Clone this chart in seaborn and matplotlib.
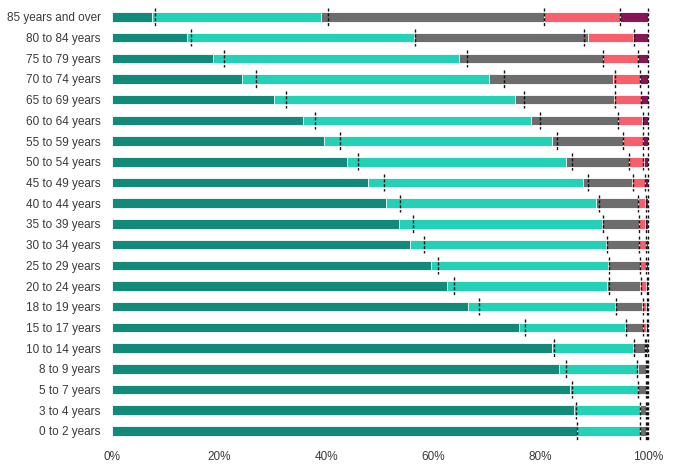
import matplotlib
matplotlib.use("Agg")
import matplotlib.pyplot as plt
import seaborn as sns
import numpy as np
import pandas as pd

age_groups = ["85 years and over", "80 to 84 years", "75 to 79 years", "70 to 74 years",
              "65 to 69 years", "60 to 64 years", "55 to 59 years", "50 to 54 years",
              "45 to 49 years", "40 to 44 years", "35 to 39 years", "30 to 34 years",
              "25 to 29 years", "20 to 24 years", "18 to 19 years", "15 to 17 years",
              "10 to 14 years", "8 to 9 years", "5 to 7 years", "3 to 4 years", "0 to 2 years"]

# segment shares (%), left to right
seg1 = [7.5, 14.0, 18.8, 24.2, 30.3, 35.6, 39.5, 43.8, 47.8, 51.2, 53.5,
        55.7, 59.6, 62.6, 66.4, 76.0, 82.2, 83.5, 85.4, 86.3, 86.8]
seg2 = [31.5, 42.4, 46.0, 46.2, 44.9, 42.5, 42.7, 40.9, 40.0, 39.2, 37.9,
        36.4, 33.0, 29.8, 27.5, 19.8, 15.1, 14.7, 12.8, 12.3, 11.8]
seg3 = [41.7, 32.4, 26.8, 23.1, 18.5, 16.4, 13.1, 11.7, 9.2, 7.7, 7.0,
        6.3, 6.0, 6.2, 5.0, 3.3, 2.1, 1.4, 1.4, 1.1, 1.0]
seg4 = [14.1, 8.5, 6.5, 5.1, 5.0, 4.4, 3.7, 2.8, 2.4, 1.4, 1.0,
        1.2, 1.0, 1.0, 0.8, 0.6, 0.3, 0.2, 0.2, 0.15, 0.2]
seg5 = [5.2, 2.7, 1.9, 1.4, 1.3, 1.1, 1.0, 0.8, 0.6, 0.5, 0.6,
        0.4, 0.4, 0.4, 0.3, 0.3, 0.3, 0.2, 0.2, 0.15, 0.2]

# dashed reference marks (cumulative %)
mark1 = [8.0, 14.7, 20.9, 26.9, 32.4, 37.9, 42.6, 46.0, 50.8, 53.8, 56.1,
         58.3, 60.9, 63.9, 68.4, 77.0, 82.4, 84.7, 85.8, 86.6, 86.8]
mark2 = [40.3, 56.6, 66.2, 73.1, 76.8, 79.8, 83.1, 85.9, 88.9, 90.8, 91.7,
         92.4, 92.7, 92.7, 94.1, 96.0, 97.5, 98.0, 98.2, 98.5, 98.6]
mark3 = [80.7, 88.1, 91.7, 93.9, 93.9, 94.5, 95.4, 96.5, 97.3, 98.1, 98.3,
         98.3, 98.5, 98.8, 99.0, 99.1, 99.5, 99.7, 99.7, 99.7, 99.7]
mark4 = [94.8, 97.4, 98.1, 98.6, 98.7, 99.0, 99.0, 99.1, 99.5, 99.6, 99.7,
         99.7, 99.7, 99.9, 99.8, 99.8, 99.7, 99.9, 99.9, 99.9, 99.9]
mark5 = [100.0] * 21

colors = ["#128a7a", "#22d1b6", "#6d6d6d", "#f65f6b", "#861656"]

sns.set_style("white")
plt.rcParams["font.family"] = ["Liberation Sans", "DejaVu Sans"]

segs = np.array([seg1, seg2, seg3, seg4, seg5])
cum = np.cumsum(segs, axis=0)
cum = cum / cum[-1] * 100

fig = plt.figure(figsize=(6.82, 4.66), dpi=100)
ax = fig.add_axes([0.164, 0.053, 0.786, 0.933])

# draw from the longest cumulative bar down so each segment sits on top
for i in range(4, -1, -1):
    df = pd.DataFrame({"group": age_groups, "value": cum[i]})
    sns.barplot(data=df, x="value", y="group", orient="h", color=colors[i],
                saturation=1, width=0.46, edgecolor="white", linewidth=0.6,
                order=age_groups, ax=ax)

ypos = np.arange(len(age_groups))
for m in [mark1, mark2, mark3, mark4, mark5]:
    ax.vlines(m, ypos - 0.42, ypos + 0.42, colors="#111111", linewidth=1.0,
              linestyles=(0, (2.2, 1.3)), zorder=5, clip_on=False)

ax.set_xlim(0, 100)
ax.set_ylim(len(age_groups) - 0.5, -0.5)
ax.set_xticks([0, 20, 40, 60, 80, 100])
ax.set_xticklabels(["0%", "20%", "40%", "60%", "80%", "100%"])
ax.set_xlabel("")
ax.set_ylabel("")
ax.tick_params(axis="both", length=0, labelsize=8.5, colors="#3a3a3a")
ax.tick_params(axis="y", pad=8)
ax.tick_params(axis="x", pad=7)
sns.despine(ax=ax, left=True, bottom=True)

fig.savefig("out.png", dpi=100)
